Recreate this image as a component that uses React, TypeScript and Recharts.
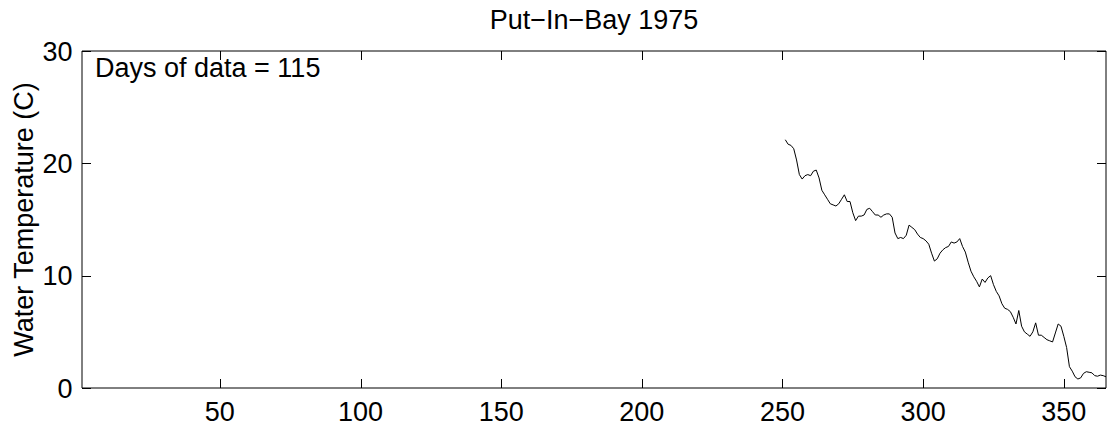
import React from 'react';
import { LineChart, Line, XAxis, YAxis } from 'recharts';

// daily water temperature, first day of record is day 251
const firstDay = 251;
const temps = [
  22.1, 21.7, 21.6, 21.3, 20.3, 19.0, 18.6, 18.9, 19.0, 18.9,
  19.3, 19.4, 18.7, 17.6, 17.2, 16.8, 16.4, 16.3, 16.2, 16.4,
  16.8, 17.2, 16.6, 16.6, 15.6, 14.9, 15.3, 15.3, 15.4, 15.9,
  16.0, 15.7, 15.4, 15.4, 15.2, 15.4, 15.5, 15.5, 15.2, 13.8,
  13.3, 13.4, 13.3, 13.6, 14.5, 14.3, 14.1, 13.7, 13.4, 13.3,
  13.1, 12.8, 12.0, 11.3, 11.5, 12.0, 12.3, 12.5, 12.6, 13.0,
  12.9, 13.0, 13.3, 12.6, 12.1, 11.2, 10.4, 9.9, 9.5, 9.0,
  9.7, 9.4, 9.8, 10.0, 9.2, 8.6, 8.2, 7.5, 7.1, 7.0,
  6.8, 6.3, 5.7, 6.9, 5.5, 5.0, 4.8, 4.6, 5.0, 5.8,
  4.7, 4.7, 4.5, 4.3, 4.2, 4.1, 4.9, 5.7, 5.5, 4.6,
  3.6, 1.9, 1.5, 1.0, 0.8, 0.9, 1.3, 1.45, 1.4, 1.35,
  1.1, 1.05, 1.15, 1.1, 1.0,
];
const xTicks = [50, 100, 150, 200, 250, 300, 350];
const yTicks = [0, 10, 20, 30];

const title = 'Put\u2212In\u2212Bay 1975';
const yLabel = 'Water Temperature (C)';
const note = `Days of data = ${temps.length}`;

const data = temps.map((t, i) => ({ day: firstDay + i, temp: t }));

const font = '"Liberation Sans", Arial, Helvetica, sans-serif';
const fontSize = 27;
const tickLen = 9;
const axisLine = { stroke: '#000', strokeWidth: 1 };

// snap to the pixel grid so 1px tick marks stay crisp
const px = (v: number) => Math.round(v) + 0.5;

// ticks point into the plot, labels sit outside
const BottomTick = (props: any) => {
  const { x, y, payload } = props;
  return (
    <g>
      <line x1={px(x)} x2={px(x)} y1={y} y2={y - tickLen} stroke="#000" strokeWidth={1} />
      <text x={x} y={y + 32.5} textAnchor="middle" fill="#000" fontSize={fontSize} fontFamily={font}>
        {payload.value}
      </text>
    </g>
  );
};

const LeftTick = (props: any) => {
  const { x, y, payload } = props;
  return (
    <g>
      <line x1={x} x2={x + tickLen} y1={px(y)} y2={px(y)} stroke="#000" strokeWidth={1} />
      <text x={x - 9.5} y={y + 9.7} textAnchor="end" fill="#000" fontSize={fontSize} fontFamily={font}>
        {payload.value}
      </text>
    </g>
  );
};

const TopTick = (props: any) => {
  const { x, y } = props;
  return <line x1={px(x)} x2={px(x)} y1={y} y2={y + tickLen} stroke="#000" strokeWidth={1} />;
};

const RightTick = (props: any) => {
  const { x, y } = props;
  return <line x1={x} x2={x - tickLen} y1={px(y)} y2={px(y)} stroke="#000" strokeWidth={1} />;
};

export default function App() {
  return (
    <div style={{ position: 'absolute', left: 0, top: 0, width: 1117, height: 432, background: '#fff' }}>
      <LineChart width={1117} height={432} data={data} margin={{ top: 50, right: 10, bottom: 0, left: 0 }}>
        <XAxis
          dataKey="day"
          type="number"
          domain={[1, 365]}
          ticks={xTicks}
          allowDataOverflow
          height={44}
          tickSize={0}
          tickMargin={0}
          tick={BottomTick}
          tickLine={false}
          axisLine={axisLine}
        />
        <XAxis
          xAxisId="top"
          orientation="top"
          dataKey="day"
          type="number"
          domain={[1, 365]}
          ticks={xTicks}
          allowDataOverflow
          height={1}
          tickSize={0}
          tickMargin={0}
          tick={TopTick}
          tickLine={false}
          axisLine={axisLine}
        />
        <YAxis
          type="number"
          domain={[0, 30]}
          ticks={yTicks}
          allowDataOverflow
          width={82}
          tickSize={0}
          tickMargin={0}
          tick={LeftTick}
          tickLine={false}
          axisLine={axisLine}
        />
        <YAxis
          yAxisId="right"
          orientation="right"
          dataKey="temp"
          type="number"
          domain={[0, 30]}
          ticks={yTicks}
          allowDataOverflow
          width={1}
          tickSize={0}
          tickMargin={0}
          tick={RightTick}
          tickLine={false}
          axisLine={axisLine}
        />
        <Line
          dataKey="temp"
          type="linear"
          stroke="#000"
          strokeWidth={1}
          dot={false}
          isAnimationActive={false}
        />
      </LineChart>
      <svg
        width={1117}
        height={432}
        style={{ position: 'absolute', left: 0, top: 0, pointerEvents: 'none' }}
        fontFamily={font}
        fontSize={fontSize}
      >
        <text x={594} y={29.3} textAnchor="middle" fill="#000">{title}</text>
        <text x={95} y={76.7} textAnchor="start" fill="#000">{note}</text>
        <text x={33} y={219.5} textAnchor="middle" fill="#000" transform="rotate(-90 33 219.5)">{yLabel}</text>
      </svg>
    </div>
  );
}
